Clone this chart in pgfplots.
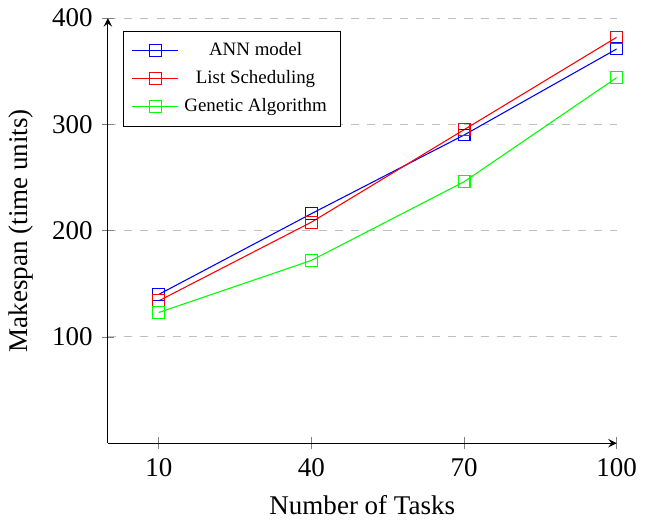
\documentclass[border=0pt]{standalone}
\usepackage{pgfplots}
\pgfplotsset{compat=1.18}
\usepackage{fontspec}
\setmainfont{Liberation Serif}
\begin{document}
\begin{tikzpicture}
\begin{axis}[
scale only axis,
width=6.62cm,
height=5.53cm,
axis lines=left,
xmin=0, xmax=100,
ymin=0, ymax=400,
xtick={10,40,70,100},
ytick={100,200,300,400},
xlabel={Number of Tasks},
ylabel={Makespan (time units)},
ymajorgrids=true,
grid style={dashed,gray!50},
/pgf/number format/assume math mode=true,
legend style={at={(0.03,0.97)},anchor=north west,font=\scriptsize,cells={anchor=center}},
]
\addplot[color=blue,mark=square,mark size=2.2pt] coordinates {(10,140) (40,216) (70,290) (100,371)};
\addplot[color=red,mark=square,mark size=2.2pt] coordinates {(10,134) (40,208) (70,295) (100,382)};
\addplot[color=green,mark=square,mark size=2.2pt] coordinates {(10,123) (40,172) (70,246) (100,344)};
\legend{ANN model, List Scheduling, Genetic Algorithm}
\end{axis}
\end{tikzpicture}
\end{document}
